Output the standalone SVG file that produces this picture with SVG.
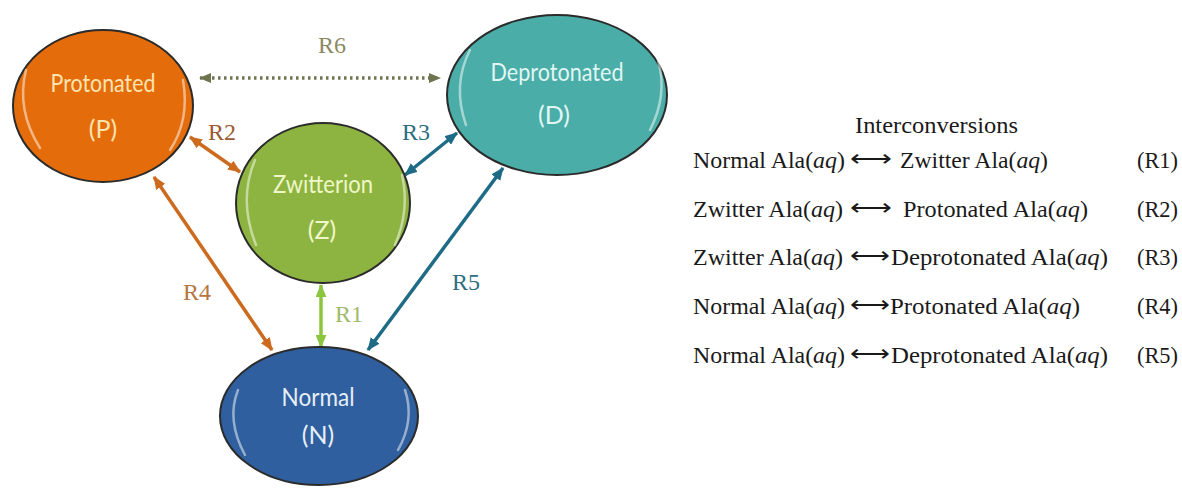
<svg xmlns="http://www.w3.org/2000/svg" width="1182" height="495" viewBox="0 0 1182 495">
<defs>
<style>
.node{stroke:#2b2b2b;stroke-width:2}
.nlab{font-family:Lato,"Open Sans",sans-serif;font-size:25px;text-anchor:middle}
.gloss{fill:none;stroke:#ffffff;stroke-opacity:0.5;stroke-width:2.5;stroke-linecap:round}
.conn{fill:none;stroke-width:3.5}
.rlab{font-family:"Liberation Serif",serif;font-size:24px}
.eq{font-family:"Liberation Serif",serif;font-size:23px;fill:#1a1a1a}
.it{font-style:italic}
.arr{font-family:"DejaVu Sans",sans-serif;font-size:23px;fill:#1a1a1a}
</style>
<marker id="mO" viewBox="0 0 12 10" refX="11" refY="5" markerWidth="13" markerHeight="11" markerUnits="userSpaceOnUse" orient="auto-start-reverse"><path d="M0,0 L12,5 L0,10 Z" fill="#CC6A1E"/></marker>
<marker id="mG" viewBox="0 0 12 10" refX="11" refY="5" markerWidth="13" markerHeight="11" markerUnits="userSpaceOnUse" orient="auto-start-reverse"><path d="M0,0 L12,5 L0,10 Z" fill="#8CC63E"/></marker>
<marker id="mT" viewBox="0 0 12 10" refX="11" refY="5" markerWidth="13" markerHeight="11" markerUnits="userSpaceOnUse" orient="auto-start-reverse"><path d="M0,0 L12,5 L0,10 Z" fill="#1E6B86"/></marker>
<marker id="mD" viewBox="0 0 12 10" refX="11" refY="5" markerWidth="12" markerHeight="10" markerUnits="userSpaceOnUse" orient="auto-start-reverse"><path d="M0,0 L12,5 L0,10 Z" fill="#6F7450"/></marker>
</defs>
<rect width="1182" height="495" fill="#ffffff"/>

<g id="connectors">
<line class="conn" x1="200" y1="78" x2="440" y2="78" stroke="#6F7450" stroke-width="3" stroke-dasharray="2.5 3.5" marker-start="url(#mD)" marker-end="url(#mD)"/>
<line class="conn" x1="190" y1="137" x2="240" y2="172" stroke="#CC6A1E" marker-start="url(#mO)" marker-end="url(#mO)"/>
<line class="conn" x1="405" y1="175" x2="457" y2="133" stroke="#1E6B86" marker-start="url(#mT)" marker-end="url(#mT)"/>
<line class="conn" x1="321" y1="285" x2="321" y2="347" stroke="#8CC63E" marker-start="url(#mG)" marker-end="url(#mG)"/>
<line class="conn" x1="154" y1="177" x2="272" y2="350" stroke="#CC6A1E" marker-start="url(#mO)" marker-end="url(#mO)"/>
<line class="conn" x1="368" y1="350" x2="503" y2="168" stroke="#1E6B86" marker-start="url(#mT)" marker-end="url(#mT)"/>
<text class="rlab" x="318" y="53" fill="#8A8A62">R6</text>
<text class="rlab" x="208" y="140" fill="#9A5A32">R2</text>
<text class="rlab" x="402" y="140" fill="#2B6E80">R3</text>
<text class="rlab" x="335" y="322" fill="#9DBB6A">R1</text>
<text class="rlab" x="183" y="300" fill="#B7763F">R4</text>
<text class="rlab" x="452" y="290" fill="#2E6E80">R5</text>
</g>

<g id="node-P">
<ellipse class="node" cx="103" cy="106" rx="90" ry="76" fill="#E46C0A"/>
<path class="gloss" d="M26,70 Q16,110 40,148"/>
<path class="gloss" d="M183,80 Q190,120 170,150"/>
<text class="nlab" x="103" y="92" fill="#FCE4B0" textLength="105" lengthAdjust="spacingAndGlyphs">Protonated</text>
<text class="nlab" x="103" y="138" fill="#FCE4B0">(P)</text>
</g>

<g id="node-D">
<ellipse class="node" cx="557" cy="95" rx="110" ry="80" fill="#4BADA8"/>
<path class="gloss" d="M470,50 Q452,85 466,125"/>
<path class="gloss" d="M658,60 Q668,95 650,130"/>
<text class="nlab" x="557" y="81" fill="#E0F7F4" textLength="133" lengthAdjust="spacingAndGlyphs">Deprotonated</text>
<text class="nlab" x="554" y="124" fill="#E0F7F4">(D)</text>
</g>

<g id="node-Z">
<ellipse class="node" cx="323" cy="203" rx="87" ry="80" fill="#8DB440"/>
<path class="gloss" d="M255,160 Q238,200 256,245"/>
<path class="gloss" d="M402,175 Q410,210 395,245"/>
<text class="nlab" x="323" y="193" fill="#EFF7C8" textLength="100" lengthAdjust="spacingAndGlyphs">Zwitterion</text>
<text class="nlab" x="322" y="239" fill="#EFF7C8">(Z)</text>
</g>

<g id="node-N">
<ellipse class="node" cx="319" cy="416" rx="99" ry="69" fill="#2F5F9E"/>
<path class="gloss" d="M238,390 Q226,420 245,455"/>
<path class="gloss" d="M405,390 Q415,420 398,450"/>
<text class="nlab" x="318" y="406" fill="#E6EEF8" textLength="73" lengthAdjust="spacingAndGlyphs">Normal</text>
<text class="nlab" x="318" y="444" fill="#E6EEF8">(N)</text>
</g>

<g id="equations">
<text class="eq" x="855" y="133" textLength="163" lengthAdjust="spacingAndGlyphs">Interconversions</text>

<text class="eq" x="693" y="168" textLength="152" lengthAdjust="spacingAndGlyphs">Normal Ala(<tspan class="it">aq</tspan>)</text>
<text class="arr" x="850" y="166" textLength="42" lengthAdjust="spacingAndGlyphs">⟷</text>
<text class="eq" x="900" y="168" textLength="148" lengthAdjust="spacingAndGlyphs">Zwitter Ala(<tspan class="it">aq</tspan>)</text>
<text class="eq" x="1137" y="168" textLength="41" lengthAdjust="spacingAndGlyphs">(R1)</text>

<text class="eq" x="693" y="217" textLength="150" lengthAdjust="spacingAndGlyphs">Zwitter Ala(<tspan class="it">aq</tspan>)</text>
<text class="arr" x="850" y="215" textLength="42" lengthAdjust="spacingAndGlyphs">⟷</text>
<text class="eq" x="903" y="217" textLength="185" lengthAdjust="spacingAndGlyphs">Protonated Ala(<tspan class="it">aq</tspan>)</text>
<text class="eq" x="1137" y="217" textLength="41" lengthAdjust="spacingAndGlyphs">(R2)</text>

<text class="eq" x="693" y="265" textLength="150" lengthAdjust="spacingAndGlyphs">Zwitter Ala(<tspan class="it">aq</tspan>)</text>
<text class="arr" x="850" y="263" textLength="40" lengthAdjust="spacingAndGlyphs">⟷</text>
<text class="eq" x="891" y="265" textLength="217" lengthAdjust="spacingAndGlyphs">Deprotonated Ala(<tspan class="it">aq</tspan>)</text>
<text class="eq" x="1137" y="265" textLength="41" lengthAdjust="spacingAndGlyphs">(R3)</text>

<text class="eq" x="693" y="314" textLength="152" lengthAdjust="spacingAndGlyphs">Normal Ala(<tspan class="it">aq</tspan>)</text>
<text class="arr" x="850" y="312" textLength="40" lengthAdjust="spacingAndGlyphs">⟷</text>
<text class="eq" x="890" y="314" textLength="190" lengthAdjust="spacingAndGlyphs">Protonated Ala(<tspan class="it">aq</tspan>)</text>
<text class="eq" x="1137" y="314" textLength="41" lengthAdjust="spacingAndGlyphs">(R4)</text>

<text class="eq" x="693" y="363" textLength="152" lengthAdjust="spacingAndGlyphs">Normal Ala(<tspan class="it">aq</tspan>)</text>
<text class="arr" x="850" y="361" textLength="40" lengthAdjust="spacingAndGlyphs">⟷</text>
<text class="eq" x="891" y="363" textLength="217" lengthAdjust="spacingAndGlyphs">Deprotonated Ala(<tspan class="it">aq</tspan>)</text>
<text class="eq" x="1137" y="363" textLength="41" lengthAdjust="spacingAndGlyphs">(R5)</text>
</g>
</svg>
